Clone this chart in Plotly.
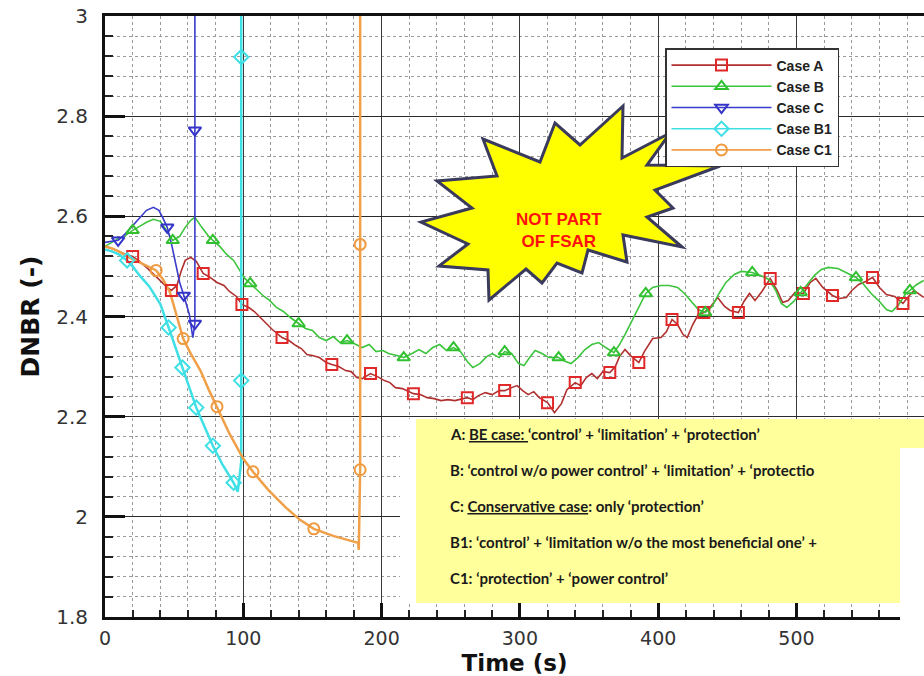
import plotly.graph_objects as go

# ---------------- data ----------------
A_t = [0, 5, 10, 15, 20, 25, 30, 35, 40, 45, 48, 52, 55, 58, 62, 66, 71, 76, 81, 86, 90, 95, 99,
       104, 108, 113, 117, 121, 128, 133, 138, 142, 146, 150, 155, 160, 164, 169, 174, 178, 182, 186,
       192, 197, 202, 206, 210, 215, 223, 228, 233, 238, 243, 248, 253, 258, 262, 266, 270, 275, 280,
       285, 289, 294, 298, 302, 306, 310, 314, 320, 325, 330, 334, 340, 344, 348, 352, 356, 360, 365,
       369, 372, 376, 380, 386, 390, 396, 402, 406, 410, 414, 418, 421, 425, 429, 433, 438, 443, 448,
       452, 458, 462, 466, 470, 475, 481, 486, 490, 494, 499, 505, 510, 514, 519, 526, 531, 536, 540,
       545, 550, 555, 560, 565, 571, 577, 581, 585, 589, 592]
A_dnbr = [2.540, 2.536, 2.530, 2.524, 2.520, 2.510, 2.498, 2.485, 2.470, 2.458, 2.452, 2.462, 2.490,
          2.512, 2.518, 2.510, 2.486, 2.478, 2.468, 2.462, 2.450, 2.440, 2.424, 2.418, 2.410, 2.396,
          2.386, 2.374, 2.358, 2.352, 2.342, 2.336, 2.324, 2.322, 2.318, 2.308, 2.304, 2.300, 2.292,
          2.290, 2.278, 2.276, 2.286, 2.280, 2.272, 2.268, 2.258, 2.256, 2.246, 2.244, 2.238, 2.236,
          2.232, 2.234, 2.232, 2.236, 2.238, 2.234, 2.242, 2.248, 2.244, 2.252, 2.252, 2.258, 2.262,
          2.252, 2.244, 2.250, 2.238, 2.228, 2.208, 2.226, 2.254, 2.268, 2.262, 2.278, 2.286, 2.276,
          2.290, 2.288, 2.300, 2.320, 2.334, 2.322, 2.308, 2.330, 2.356, 2.358, 2.370, 2.394, 2.384,
          2.364, 2.358, 2.384, 2.404, 2.408, 2.420, 2.438, 2.420, 2.412, 2.408, 2.430, 2.446, 2.432,
          2.450, 2.476, 2.452, 2.428, 2.432, 2.448, 2.446, 2.468, 2.476, 2.458, 2.442, 2.436, 2.438,
          2.452, 2.464, 2.470, 2.478, 2.458, 2.444, 2.440, 2.426, 2.440, 2.452, 2.444, 2.438]
A_mark_t = [20, 48, 71, 99, 128, 164, 192, 223, 262, 289, 320, 340, 365, 386, 410, 433, 458, 481,
            505, 526, 555, 577]

B_t = [0, 5, 10, 15, 20, 25, 30, 35, 40, 44, 49, 54, 58, 62, 65, 70, 75, 78, 83, 88, 93, 97, 101,
       105, 110, 115, 119, 124, 129, 134, 140, 145, 150, 155, 160, 165, 170, 175, 180, 186, 191, 196,
       201, 205, 211, 216, 222, 227, 232, 237, 242, 247, 252, 257, 262, 266, 271, 276, 280, 285, 289,
       294, 299, 303, 307, 311, 316, 321, 328, 333, 337, 342, 347, 352, 357, 362, 368, 372, 376, 381,
       386, 391, 396, 402, 408, 414, 419, 424, 429, 434, 439, 444, 449, 455, 460, 468, 474, 480, 485,
       489, 493, 498, 503, 508, 513, 518, 523, 530, 536, 543, 548, 554, 560, 565, 569, 574, 579, 582,
       587, 592]
B_dnbr = [2.540, 2.548, 2.556, 2.562, 2.572, 2.580, 2.588, 2.594, 2.590, 2.574, 2.552, 2.560, 2.578,
          2.592, 2.598, 2.578, 2.560, 2.552, 2.540, 2.524, 2.512, 2.494, 2.476, 2.466, 2.452, 2.440,
          2.432, 2.418, 2.410, 2.398, 2.386, 2.376, 2.372, 2.358, 2.352, 2.360, 2.348, 2.352, 2.346,
          2.338, 2.344, 2.330, 2.332, 2.326, 2.322, 2.318, 2.326, 2.334, 2.326, 2.338, 2.344, 2.332,
          2.338, 2.330, 2.310, 2.298, 2.306, 2.320, 2.326, 2.318, 2.330, 2.326, 2.306, 2.302, 2.318,
          2.332, 2.326, 2.318, 2.318, 2.310, 2.306, 2.318, 2.334, 2.344, 2.348, 2.338, 2.328, 2.344,
          2.364, 2.392, 2.420, 2.446, 2.458, 2.462, 2.462, 2.458, 2.446, 2.430, 2.414, 2.408, 2.420,
          2.446, 2.468, 2.484, 2.490, 2.488, 2.482, 2.474, 2.452, 2.426, 2.418, 2.430, 2.448, 2.466,
          2.482, 2.494, 2.498, 2.496, 2.488, 2.478, 2.466, 2.446, 2.430, 2.414, 2.410, 2.424, 2.446,
          2.452, 2.464, 2.472]
B_mark_t = [20, 49, 78, 105, 140, 175, 216, 252, 289, 328, 368, 391, 434, 468, 503, 543, 582]

C_t = [0, 5, 9.5, 15, 20, 25, 30, 35, 39, 42, 45, 48, 51, 54, 57, 61, 63.5, 65, 65, 65]
C_dnbr = [2.548, 2.550, 2.552, 2.566, 2.582, 2.598, 2.612, 2.618, 2.612, 2.596, 2.578, 2.546, 2.504,
          2.468, 2.442, 2.404, 2.358, 2.386, 2.772, 3.300]
C_mark_i = [2, 10, 14, 17, 18]

B1_t = [0, 5, 10, 16, 20, 25, 32, 40, 46, 51, 56, 61, 66, 72, 78, 85, 93, 96, 98.5, 98.5, 98.5, 98.5]
B1_dnbr = [2.534, 2.530, 2.524, 2.512, 2.500, 2.482, 2.460, 2.425, 2.378, 2.340, 2.298, 2.258,
           2.218, 2.180, 2.142, 2.104, 2.068, 2.050, 2.110, 2.272, 2.918, 3.300]
B1_mark_i = [3, 8, 10, 12, 14, 16, 19, 20]

C1_t = [0, 5, 10, 15, 20, 25, 30, 37, 42, 47, 52, 56.5, 62, 69, 75, 81, 90, 100, 107, 118, 131,
        141, 151, 165, 183, 183.5, 184.5, 184.5, 184.5]
C1_dnbr = [2.540, 2.536, 2.530, 2.522, 2.514, 2.508, 2.502, 2.492, 2.474, 2.448, 2.400, 2.356,
           2.326, 2.292, 2.254, 2.220, 2.166, 2.116, 2.090, 2.054, 2.018, 1.994, 1.976, 1.962,
           1.948, 1.934, 2.094, 2.544, 3.300]
C1_mark_i = [7, 11, 15, 18, 22, 26, 27]

case_names = ["Case A", "Case B", "Case C", "Case B1", "Case C1"]
notes = [
    "A: <u>BE case: </u>‘control’ + ‘limitation’ + ‘protection’",
    "B: ‘control w/o power control’ + ‘limitation’ + ‘protectio",
    "C: <u>Conservative case</u>: only ‘protection’",
    "B1: ‘control’ + ‘limitation w/o the most beneficial one’ +",
    "C1: ‘protection’ + ‘power control’",
]
x_ticks = [0, 100, 200, 300, 400, 500]
y_ticks = [1.8, 2.0, 2.2, 2.4, 2.6, 2.8, 3.0]

# ---------------- layout geometry (pixels) ----------------
W, H = 924, 676
PL, PR, PT, PB = 105, 924, 16, 617
X_RANGE = [0, 592.2]
Y_RANGE = [1.8, 3.0]


def fx(p):
    return (p - PL) / (PR - PL)


def fy(p):
    return (PB - p) / (PB - PT)


def marks_from_t(ts, ys, mts):
    mx, my = [], []
    for m in mts:
        i = ts.index(m)
        mx += [ts[i], None]
        my += [ys[i], None]
    return mx, my


def marks_from_i(ts, ys, idx):
    mx, my = [], []
    for i in idx:
        mx += [ts[i], None]
        my += [ys[i], None]
    return mx, my


series = [
    (A_t, A_dnbr, marks_from_t(A_t, A_dnbr, A_mark_t), "#b0302f", "#e02828", "square-open"),
    (B_t, B_dnbr, marks_from_t(B_t, B_dnbr, B_mark_t), "#3cc43c", "#30c030", "triangle-up-open"),
    (C_t, C_dnbr, marks_from_i(C_t, C_dnbr, C_mark_i), "#3b3bcc", "#3434c8", "triangle-down-open"),
    (B1_t, B1_dnbr, marks_from_i(B1_t, B1_dnbr, B1_mark_i), "#3fdfe6", "#3fdfe6", "diamond-open"),
    (C1_t, C1_dnbr, marks_from_i(C1_t, C1_dnbr, C1_mark_i), "#f0a048", "#f09a40", "circle-open"),
]

fig = go.Figure()
for (t, y, (mx, my), lc, mc, sym), name in zip(series, case_names):
    lw = 2.5 if name in ("Case B1", "Case C1") else 1.6
    fig.add_trace(go.Scatter(x=t, y=y, mode="lines", line=dict(color=lc, width=lw),
                             legendgroup=name, showlegend=False, hoverinfo="skip"))
for (t, y, (mx, my), lc, mc, sym), name in zip(series, case_names):
    fig.add_trace(go.Scatter(x=mx, y=my, mode="lines+markers", name=name, legendgroup=name,
                             connectgaps=False, line=dict(color=lc, width=1.6),
                             marker=dict(symbol=sym, size=11, color=mc, line=dict(width=2, color=mc))))

fig.update_xaxes(range=X_RANGE, tickvals=x_ticks, ticks="inside", ticklen=14, tickwidth=3,
                 tickcolor="#111", showline=True, linewidth=3, linecolor="#111", mirror=True,
                 showgrid=True, gridcolor="#3a3a3a", gridwidth=1.3, zeroline=False,
                 tickfont=dict(family="DejaVu Sans", size=19, color="#333"),
                 ticklabelstandoff=2, automargin=False,
                 minor=dict(dtick=20, ticks="inside", ticklen=7, tickwidth=1.5, tickcolor="#222",
                            showgrid=True, gridcolor="#9a9a9a", griddash="dot", gridwidth=1),
                 title=dict(text="<b>Time (s)</b>", standoff=9,
                            font=dict(family="DejaVu Sans", size=23, color="#111")))
fig.update_yaxes(range=Y_RANGE, tickvals=y_ticks, ticks="inside", ticklen=20, tickwidth=3,
                 tickcolor="#111", showline=True, linewidth=3, linecolor="#111", mirror=False,
                 showgrid=True, gridcolor="#2a2a2a", gridwidth=1.3, zeroline=False,
                 tickfont=dict(family="DejaVu Sans", size=20, color="#333"),
                 ticklabelstandoff=10, automargin=False,
                 minor=dict(dtick=0.04, ticks="inside", ticklen=8, tickwidth=1.5, tickcolor="#222",
                            showgrid=True, gridcolor="#9a9a9a", griddash="dot", gridwidth=1),
                 title=dict(text="<b>DNBR (-)</b>", standoff=10,
                            font=dict(family="DejaVu Sans", size=25, color="#111")))

shapes = [
    # white panel behind the note box
    dict(type="rect", xref="paper", yref="paper", x0=fx(400), x1=fx(924), y0=fy(603), y1=fy(419),
         fillcolor="white", line=dict(width=0), layer="above"),
    # yellow note box
    dict(type="rect", xref="paper", yref="paper", x0=fx(416), x1=fx(924), y0=fy(603), y1=fy(419),
         fillcolor="#ffff9c", line=dict(width=0), layer="above"),
    # white strip at the right edge
    dict(type="rect", xref="paper", yref="paper", x0=fx(900), x1=fx(930), y0=fy(680), y1=fy(448),
         fillcolor="white", line=dict(width=0), layer="above"),
]
star_px = [(623, 106), (580, 145), (555, 123), (540, 162), (483, 139), (497, 176), (437, 181),
           (472, 208), (421, 222), (468, 244), (439, 266), (488, 270), (489, 300), (526, 269),
           (542, 283), (557, 263), (582, 273), (588, 250), (627, 262), (623, 235), (682, 247),
           (647, 217), (673, 208), (655, 190), (720, 166), (647, 165), (670, 133), (622, 158)]
path = "M " + " L ".join(f"{fx(a):.5f},{fy(b):.5f}" for a, b in star_px) + " Z"
shapes.append(dict(type="path", xref="paper", yref="paper", path=path, fillcolor="#ffff00",
                   line=dict(color="#3a3a5c", width=3), layer="above"))

annotations = [dict(xref="paper", yref="paper", x=fx(559), y=fy(208), text="<b>NOT PART<br>OF FSAR</b>",
                    showarrow=False, font=dict(family="Liberation Sans", size=17, color="#ff1010"),
                    align="center")]
for i, line in enumerate(notes):
    annotations.append(dict(xref="paper", yref="paper", x=fx(448), y=fy(434 + 36 * i), text=line,
                            xanchor="left", yanchor="middle", showarrow=False, align="left",
                            font=dict(family="Lato", size=15, color="#1a1a1a", weight="bold")))

fig.update_layout(
    width=W, height=H, autosize=False,
    margin=dict(l=PL, r=W - PR, t=PT, b=H - PB),
    paper_bgcolor="white", plot_bgcolor="white",
    shapes=shapes, annotations=annotations,
    showlegend=True,
    legend=dict(x=fx(665), y=fy(48), xanchor="left", yanchor="top", bgcolor="white",
                bordercolor="#333", borderwidth=1.5, itemwidth=100, tracegroupgap=0,
                font=dict(family="Liberation Sans", size=14, color="#222", weight="bold")),
)

fig.write_html("out.html", config={"displayModeBar": False},
               post_script="document.body.style.margin='0';document.body.style.overflow='hidden';")
